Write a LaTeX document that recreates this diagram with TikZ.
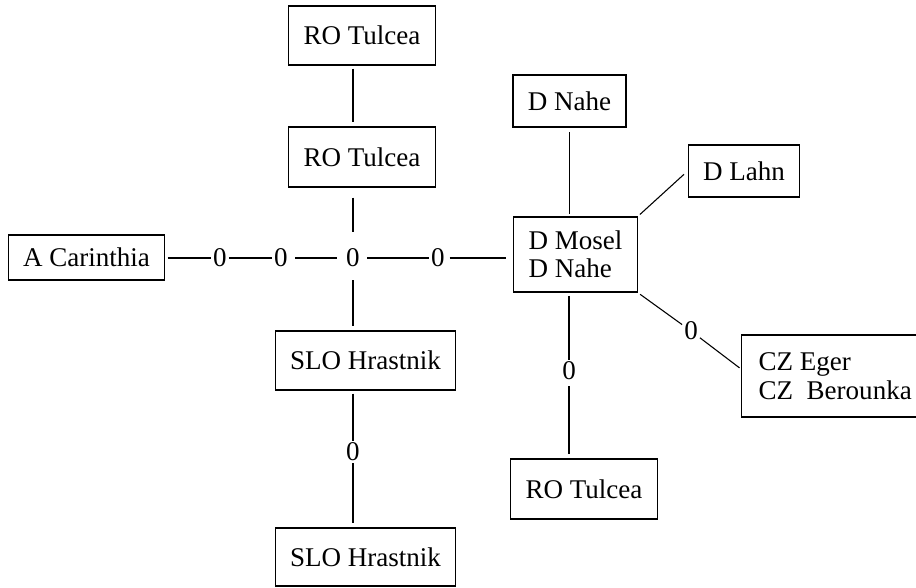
\documentclass[tikz,border=0pt]{standalone}
\usepackage{fontspec}
\setmainfont{Liberation Serif}
\begin{document}
\begin{tikzpicture}[x=0.37pt, y=-0.37pt,
        site/.style={draw, line width=0.45pt, inner xsep=5.5pt, inner ysep=0pt, align=left, font=\fontsize{10}{10.2}\selectfont},
        zero/.style={inner sep=0.6pt, font=\fontsize{10}{10}\selectfont},
        link/.style={line width=0.4pt}]
        \useasboundingbox (0, 0) rectangle (916, 587);
        \clip (0, 0) rectangle (916, 587);
        % sites
        \node (rotop) at (362, 35.5) [site, minimum height=21.8pt] {RO Tulcea};
        \node (romid) at (362, 157) [site, minimum height=22.2pt] {RO Tulcea};
        \node (carin) at (86.5, 257.5) [site, minimum height=16.7pt] {A Carinthia};
        \node (slotop) at (365.5, 360.5) [site, minimum height=21.8pt] {SLO Hrastnik};
        \node (slobot) at (365.5, 557) [site, minimum height=21.5pt] {SLO Hrastnik};
        \node (nahe) at (569.5, 101) [site, minimum height=19.2pt] {D Nahe};
        \node (mosel) at (575.5, 254.5) [site, minimum height=27.8pt] {D Mosel\\D Nahe};
        \node (lahn) at (744, 171) [site, minimum height=19.2pt] {D Lahn};
        \node (cz) at (741, 376) [site, anchor=west, inner xsep=6.3pt, text width=80pt, align=flush left, minimum height=30.3pt] {CZ Eger\\[0.6pt]CZ\hspace{0.5em}Berounka};
        \node (robot) at (584, 489) [site, minimum height=22.2pt] {RO Tulcea};
        % zeros
        \node (z1) at (220, 258) [zero] {0};
        \node (z2) at (281, 258) [zero] {0};
        \node (z3) at (353, 258) [zero] {0};
        \node (z4) at (438, 258) [zero] {0};
        \node (z5) at (353, 452) [zero] {0};
        \node (z6) at (691, 331) [zero] {0};
        \node (z7) at (569, 371) [zero] {0};
        % left column
        \draw [link, shorten <=1.1pt, shorten >=1.5pt] (rotop.south -| z3) -- (romid.north -| z3);
        \draw [link, shorten <=3.7pt, shorten >=5.6pt] (romid.south -| z3) -- (z3.north);
        \draw [link, shorten <=4pt, shorten >=1.5pt] (z3.south) -- (z3 |- slotop.north);
        \draw [link, shorten <=1.1pt] (slotop.south -| z5) -- (z5.north);
        \draw [link, shorten >=1.5pt] (z5.south) -- (slobot.north -| z5);
        % horizontal chain
        \draw [link, shorten <=0.8pt] (carin.east |- z1) -- (z1.west);
        \draw [link] (z1.east) -- (z2.west);
        \draw [link, shorten <=2pt, shorten >=2.5pt] (z2.east) -- (z3.west);
        \draw [link, shorten <=2pt] (z3.east) -- (z4.west);
        \draw [link, shorten <=1pt, shorten >=2.5pt] (z4.east) -- (mosel.west |- z4);
        % right column
        \draw [link, shorten <=1.8pt, shorten >=0.7pt] (nahe.south) -- (nahe.south |- mosel.north);
        \draw [link, shorten <=1pt, shorten >=1.8pt] (mosel.north east) -- (lahn.west);
        \draw [link, shorten <=1pt] (mosel.south east) -- (z6);
        \draw [link, shorten >=0.7pt] (z6) -- (cz.west |- 0, 369);
        \draw [link, shorten <=1.2pt] (mosel.south -| z7) -- (z7.north);
        \draw [link, shorten <=1.5pt, shorten >=1.5pt] (z7.south) -- (robot.north -| z7);
    \end{tikzpicture}
\end{document}
